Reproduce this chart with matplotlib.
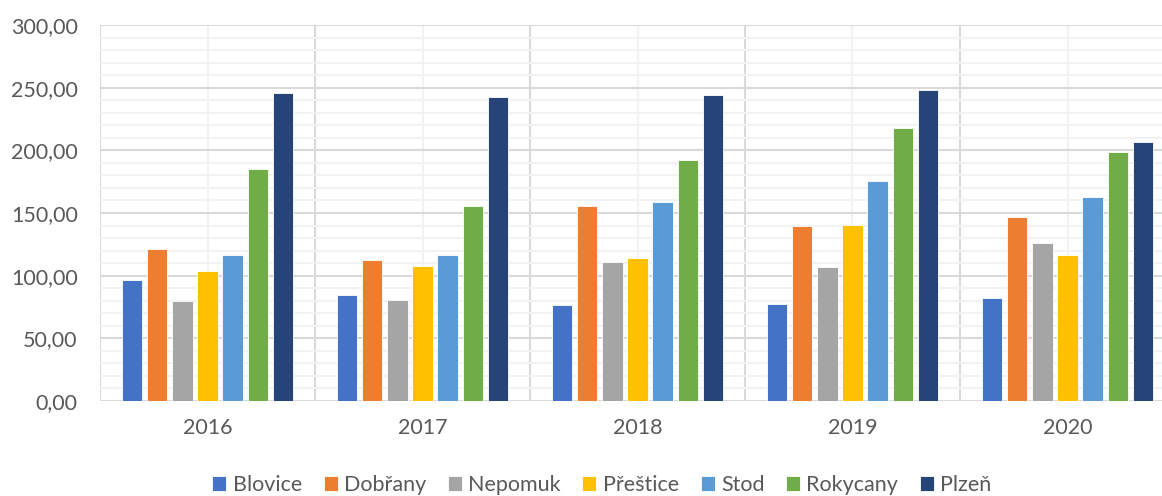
import matplotlib
matplotlib.use('Agg')
import matplotlib.pyplot as plt
from matplotlib.ticker import MultipleLocator, FuncFormatter
import numpy as np

plt.rcParams['font.family'] = ['Lato', 'DejaVu Sans']

years = ['2016', '2017', '2018', '2019', '2020']
towns = ['Blovice', 'Dobřany', 'Nepomuk', 'Přeštice', 'Stod', 'Rokycany', 'Plzeň']
colors = ['#4472C4', '#ED7D31', '#A5A5A5', '#FFC000', '#5B9BD5', '#70AD47', '#264478']

blovice = [96.5, 84.3, 76.5, 77.1, 81.8]
dobrany = [121.0, 112.4, 155.3, 139.8, 146.5]
nepomuk = [80.0, 80.5, 110.6, 106.8, 125.7]
prestice = [104.0, 108.0, 113.8, 140.4, 116.2]
stod = [116.7, 116.1, 158.7, 175.5, 162.7]
rokycany = [185.3, 155.3, 191.9, 218.0, 198.9]
plzen = [245.5, 242.8, 244.2, 247.8, 206.3]
series = [blovice, dobrany, nepomuk, prestice, stod, rokycany, plzen]

grey_txt = '#595959'
fig = plt.figure(figsize=(11.62, 4.96), dpi=100)
ax = fig.add_axes([100 / 1162, 95 / 496, 1075 / 1162, 376 / 496])

x = np.arange(len(years))
pitch = 0.1172
width = 0.096
for i, (name, vals) in enumerate(zip(towns, series)):
    ax.bar(x + (i - 3) * pitch, vals, width, color=colors[i], label=name,
           edgecolor='white', linewidth=0.6, zorder=3)

ax.set_xlim(-0.5, len(years) - 0.5)
ax.set_ylim(0, 300)
ax.yaxis.set_major_locator(MultipleLocator(50))
ax.yaxis.set_minor_locator(MultipleLocator(10))
ax.yaxis.set_major_formatter(FuncFormatter(lambda v, p: f'{v:.2f}'.replace('.', ',')))
ax.grid(which='major', axis='y', color='#d9d9d9', linewidth=1.5, zorder=1)
ax.grid(which='minor', axis='y', color='#f2f2f2', linewidth=1.5, zorder=0)
for b in np.arange(-0.5, len(years), 1.0):
    ax.axvline(b, color='#d9d9d9', linewidth=1.5, zorder=1)
for c in x:
    ax.axvline(c, color='#f2f2f2', linewidth=1.5, zorder=0)

ax.set_xticks(x)
ax.set_xticklabels(years)
ax.tick_params(axis='both', which='both', length=0, labelsize=15.5, colors=grey_txt)
ax.tick_params(axis='x', pad=12)
ax.tick_params(axis='y', pad=16)
for s in ax.spines.values():
    s.set_visible(False)

fig.legend(loc='center', bbox_to_anchor=(602 / 1162, 1 - 485 / 496), ncol=7,
           frameon=False, fontsize=15.5, handlelength=0.65, handleheight=0.65,
           handletextpad=0.3, columnspacing=1.0, labelcolor=grey_txt)

fig.savefig('out.png', dpi=100)
